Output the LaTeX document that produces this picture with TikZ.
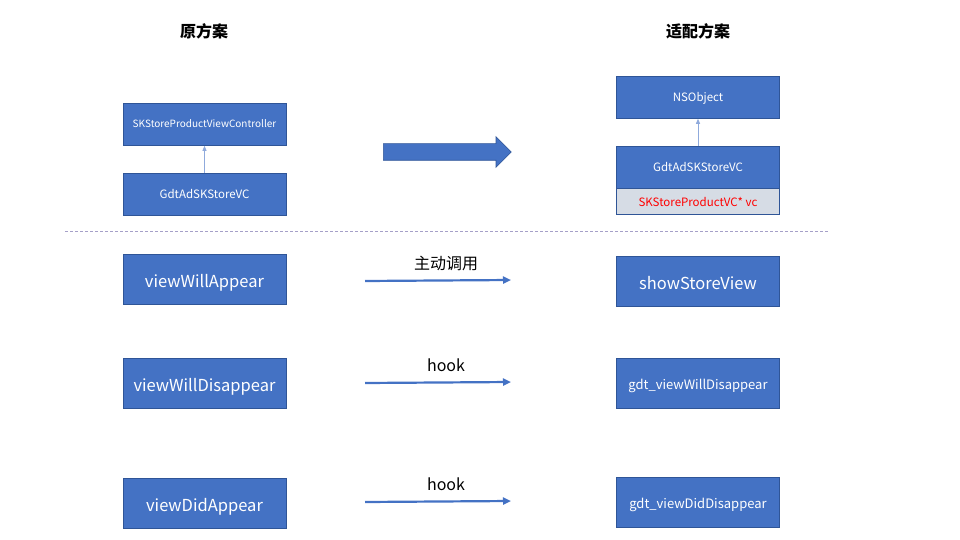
\documentclass[tikz,border=0pt]{standalone}
\usepackage{fontspec}
\setmainfont{Noto Sans CJK SC}
\usetikzlibrary{arrows.meta,shapes.arrows}
\definecolor{boxblue}{HTML}{4472C4}
\definecolor{boxedge}{HTML}{2F5597}
\definecolor{greyfill}{HTML}{D6DCE5}
\definecolor{dashcol}{HTML}{A5A0C8}
\definecolor{arrcol}{HTML}{4472C4}
\definecolor{thinarr}{HTML}{8FAADC}
\tikzset{
  bbox/.style={draw=boxedge, line width=0.6pt, fill=boxblue, text=white, minimum width=163pt, inner sep=0pt, text depth=0pt},
  smalltxt/.style={font=\fontsize{10}{12}\selectfont, text height=8pt},
  midtxt/.style={font=\fontsize{11.5}{13}\selectfont, text height=9pt},
  bigtxt/.style={font=\fontsize{16.5}{18}\selectfont, text height=16pt},
  gdttxt/.style={font=\fontsize{13}{15}\selectfont, text height=12pt},
  title/.style={font=\fontsize{16}{18}\selectfont\bfseries},
  flow/.style={draw=arrcol, line width=2.2pt, -{Triangle[length=8pt,width=7pt]}},
  inherit/.style={draw=thinarr, line width=0.8pt, -{Triangle[length=5pt,width=4pt]}, shorten >=0.5pt},
  lbl/.style={font=\fontsize{16}{18}\selectfont, text=black}
}
\begin{document}
\begin{tikzpicture}[x=1pt,y=-1pt]
\useasboundingbox (0,0) rectangle (960,540);
% titles
\node[title] (t1) at (204,31) {原方案};
\node[title] (t2) at (698,31) {适配方案};
% left top
\node[bbox, smalltxt, minimum height=42pt] (skvc) at (204.5,124) {SKStoreProductViewController};
\node[bbox, midtxt, minimum height=42pt] (gdtl) at (204.5,194) {GdtAdSKStoreVC};
\draw[inherit] (gdtl.north) -- (skvc.south);
% big arrow
\node[single arrow, draw=boxedge, line width=0.6pt, fill=boxblue, minimum height=128pt, inner xsep=0pt, inner ysep=8pt, single arrow head extend=7pt, single arrow tip angle=90, single arrow head indent=0pt, anchor=tail] (big) at (383,152) {};
% right top
\node[bbox, midtxt, minimum height=42pt] (nso) at (698,97) {NSObject};
\node[bbox, midtxt, minimum height=42pt] (gdtr) at (698,167) {GdtAdSKStoreVC};
\node[bbox, fill=greyfill, text=red, midtxt, minimum height=26pt, anchor=north] (vcf) at (gdtr.south) {SKStoreProductVC* vc};
\draw[inherit] (gdtr.north) -- (nso.south);
% dashed separator
\coordinate (d1) at (65,231);
\coordinate (d2) at (828,231);
\draw[dashcol, line width=0.8pt, dash pattern=on 3pt off 2pt] (d1) -- (d2);
% rows left
\node[bbox, bigtxt, minimum height=50pt] (vwa) at (204.5,279) {viewWillAppear};
\node[bbox, bigtxt, minimum height=50pt] (vwd) at (204.5,383) {viewWillDisappear};
\node[bbox, bigtxt, minimum height=50pt] (vda) at (204.5,503) {viewDidAppear};
% rows right
\node[bbox, bigtxt, minimum height=50pt] (ssv) at (698,281) {showStoreView};
\node[bbox, gdttxt, minimum height=50pt] (gwd) at (698,383) {gdt\_viewWillDisappear};
\node[bbox, gdttxt, minimum height=50pt] (gdd) at (698,502) {gdt\_viewDidDisappear};
% flow arrows
\coordinate (a1s) at (365,281); \coordinate (a1e) at (511,280);
\coordinate (a2s) at (365,383); \coordinate (a2e) at (511,382);
\coordinate (a3s) at (365,502); \coordinate (a3e) at (511,501);
\draw[flow] (a1s) -- (a1e);
\draw[flow] (a2s) -- (a2e);
\draw[flow] (a3s) -- (a3e);
\node[lbl] (l1) at (446,263) {主动调用};
\node[lbl] (l2) at (446,365) {hook};
\node[lbl] (l3) at (446,484) {hook};
\end{tikzpicture}
\end{document}
